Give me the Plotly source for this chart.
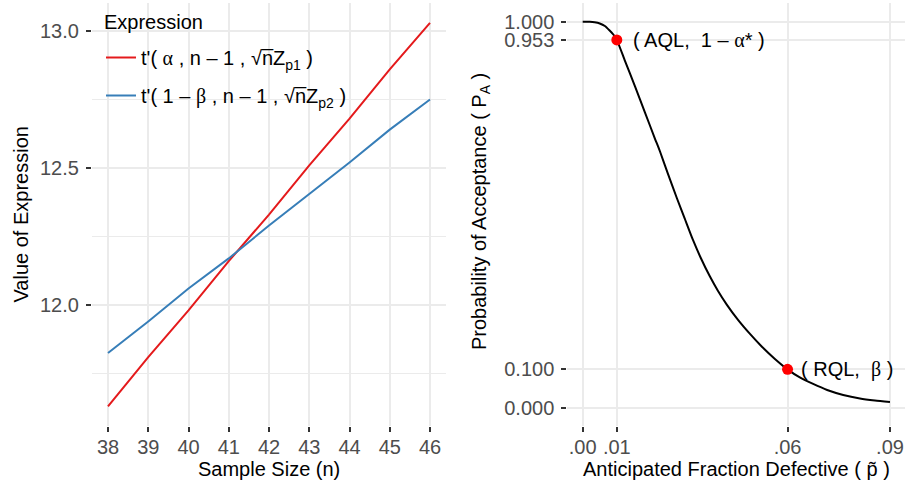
import plotly.graph_objects as go

# ---------------- data ----------------
sample_size = [38, 39, 40, 41, 42, 43, 44, 45, 46]
t_alpha = [11.63, 11.81, 11.98, 12.16, 12.33, 12.51, 12.68, 12.86, 13.03]
t_beta = [11.825, 11.94, 12.06, 12.17, 12.29, 12.405, 12.52, 12.64, 12.75]

frac_defective = [0.0, 0.0021, 0.0035, 0.005, 0.0065, 0.0079, 0.0091, 0.01, 0.0123,
                  0.0153, 0.0182, 0.0211, 0.0226, 0.0249, 0.0276, 0.0299, 0.0323,
                  0.0346, 0.0372, 0.0396, 0.0422, 0.0455, 0.049, 0.0525, 0.0563,
                  0.06, 0.0636, 0.0675, 0.0716, 0.0763, 0.0812, 0.0856, 0.09]
prob_accept = [1.0, 0.9997, 0.9984, 0.9953, 0.9889, 0.9772, 0.9656, 0.953, 0.9008,
               0.8335, 0.7662, 0.6989, 0.6653, 0.608, 0.543, 0.490, 0.4349,
               0.3882, 0.3414, 0.3035, 0.2676, 0.228, 0.1916, 0.1585, 0.127,
               0.100, 0.079, 0.0621, 0.0466, 0.0337, 0.0246, 0.0194, 0.0155]

point_p = [0.01, 0.06]
point_pa = [0.953, 0.100]
point_labels = ["( AQL,  1 \u2013 <span style='font-family:Liberation Serif'>\u03b1</span>* )",
                "( RQL,  <span style='font-family:Liberation Serif'>\u03b2</span> )"]

left_xticks = [38, 39, 40, 41, 42, 43, 44, 45, 46]
left_yticks = [12.0, 12.5, 13.0]
left_yticktext = ["12.0", "12.5", "13.0"]
right_xticks = [0.0, 0.01, 0.06, 0.09]
right_xticktext = [".00", ".01", ".06", ".09"]
right_yticks = [0.0, 0.1, 0.953, 1.0]
right_yticktext = ["0.000", "0.100", "0.953", "1.000"]

label_alpha = ("t'( <span style='font-family:Liberation Serif'>\u03b1</span> , n \u2013 1 , "
               "\u221an\u0305Z<sub>p1</sub> )")
label_beta = ("t'( 1 \u2013 <span style='font-family:Liberation Serif'>\u03b2</span> , n \u2013 1 , "
              "\u221an\u0305Z<sub>p2</sub> )")

FONT = "Liberation Sans, Arial, sans-serif"
GRID = "#EBEBEB"
TICKC = "#4D4D4D"
W, H = 905, 490

fig = go.Figure()
fig.add_trace(go.Scatter(x=sample_size, y=t_alpha, mode="lines", name=label_alpha,
                         line=dict(color="#E41A1C", width=2), xaxis="x", yaxis="y",
                         legendgroup="a"))
fig.add_trace(go.Scatter(x=sample_size, y=t_beta, mode="lines", name=label_beta,
                         line=dict(color="#377EB8", width=2), xaxis="x", yaxis="y",
                         legendgroup="b"))
fig.add_trace(go.Scatter(x=frac_defective, y=prob_accept, mode="lines", showlegend=False,
                         line=dict(color="black", width=2, shape="spline", smoothing=0.6),
                         xaxis="x2", yaxis="y2"))
fig.add_trace(go.Scatter(x=point_p, y=point_pa, mode="markers", showlegend=False,
                         marker=dict(color="#FF0000", size=11),
                         xaxis="x2", yaxis="y2", cliponaxis=False))

ydom = [(H - 426.1) / H, (H - 2.8) / H]

axis_common = dict(showline=False, zeroline=False, ticks="outside", ticklen=5,
                   tickwidth=1.5, tickcolor="#333333", gridcolor=GRID, gridwidth=1.5,
                   automargin=False,
                   tickfont=dict(size=20, color=TICKC, family=FONT))

annotations = [
    dict(text="Sample Size (n)", x=269 / W, y=1 - 469 / H, xref="paper", yref="paper",
         showarrow=False, xanchor="center", yanchor="middle",
         font=dict(size=20, color="black", family=FONT)),
    dict(text="Value of Expression", x=20 / W, y=1 - 214.5 / H, xref="paper", yref="paper",
         showarrow=False, xanchor="center", yanchor="middle", textangle=-90,
         font=dict(size=20, color="black", family=FONT)),
    dict(text="Anticipated Fraction Defective ( p\u0303 )", x=736 / W, y=1 - 469 / H,
         xref="paper", yref="paper", showarrow=False, xanchor="center", yanchor="middle",
         font=dict(size=20, color="black", family=FONT)),
    dict(text="Probability of Acceptance ( P<sub>A</sub> )", x=480 / W, y=1 - 212 / H,
         xref="paper", yref="paper", showarrow=False, xanchor="center", yanchor="middle",
         textangle=-90, font=dict(size=20, color="black", family=FONT)),
    dict(text="Expression", x=102 / W, y=1 - 22 / H, xref="paper", yref="paper",
         showarrow=False, xanchor="left", yanchor="middle",
         font=dict(size=20, color="black", family=FONT)),
]
for px, pa, lab, shift in zip(point_p, point_pa, point_labels, [14, 11]):
    annotations.append(dict(text=lab, x=px, y=pa, xref="x2", yref="y2", showarrow=False,
                            xanchor="left", yanchor="middle", xshift=shift,
                            font=dict(size=20, color="black", family=FONT)))

fig.update_layout(
    width=W, height=H,
    margin=dict(l=0, r=0, t=0, b=0),
    paper_bgcolor="white", plot_bgcolor="white",
    font=dict(family=FONT, size=20, color="black"),
    xaxis=dict(domain=[91.9 / W, 446.1 / W], range=[37.6, 46.4], tickvals=left_xticks,
               anchor="y", ticklabelstandoff=-2, **axis_common),
    yaxis=dict(domain=ydom, range=[11.558, 13.103], tickvals=left_yticks,
               ticktext=left_yticktext, ticklabelstandoff=3,
               minor=dict(dtick=0.25, tick0=11.75, showgrid=True, gridcolor=GRID,
                          gridwidth=1, ticks=""),
               anchor="x", **axis_common),
    xaxis2=dict(domain=[567.3 / W, 1.0], range=[-0.0045, 0.0944], tickvals=right_xticks,
                ticktext=right_xticktext, anchor="y2", ticklabelstandoff=-2, **axis_common),
    yaxis2=dict(domain=ydom, range=[-0.047, 1.049], tickvals=right_yticks,
                ticktext=right_yticktext, anchor="x2", ticklabelstandoff=3, **axis_common),
    annotations=annotations,
    legend=dict(x=101 / W, y=1 - 38 / H, xanchor="left", yanchor="top",
                bgcolor="rgba(255,255,255,0)",
                font=dict(size=20, family=FONT, color="black"),
                traceorder="grouped", tracegroupgap=9, itemwidth=30),
)

fig.write_html("out.html", config={"displayModeBar": False},
               post_script="document.body.style.margin='0';document.body.style.overflow='hidden';")
